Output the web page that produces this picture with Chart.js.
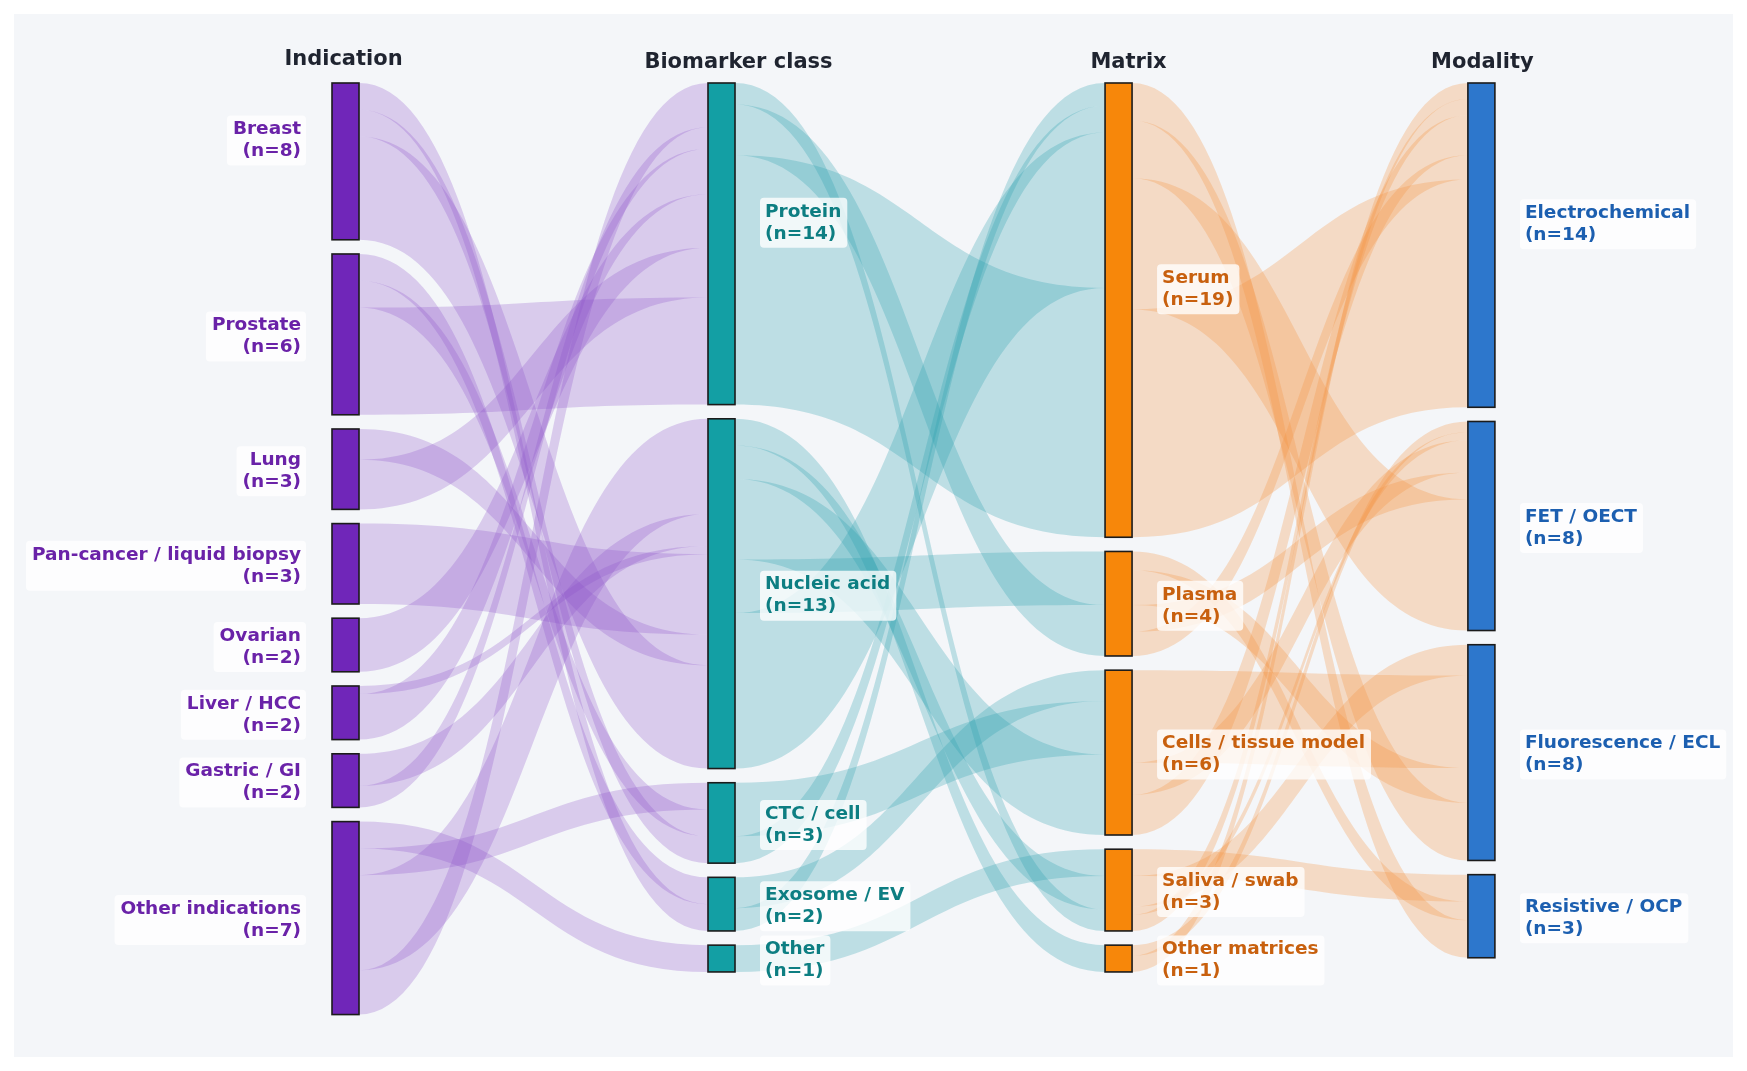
<!DOCTYPE html>
<html>
<head>
<meta charset="utf-8">
<script src="https://cdn.jsdelivr.net/npm/chart.js@4.4.1/dist/chart.umd.min.js"></script>
<style>
  html, body { margin: 0; padding: 0; background: #ffffff; }
  #wrap { width: 1747px; height: 1071px; position: relative; }
</style>
</head>
<body>
<div id="wrap"><canvas id="chart"></canvas></div>
<script>
// ---- data ----
const columnTitles = ['Indication', 'Biomarker class', 'Matrix', 'Modality'];

const indication = ['Breast', 'Prostate', 'Lung', 'Pan-cancer / liquid biopsy', 'Ovarian', 'Liver / HCC', 'Gastric / GI', 'Other indications'];
const indicationN = [8, 6, 3, 3, 2, 2, 2, 7];

const biomarker = ['Protein', 'Nucleic acid', 'CTC / cell', 'Exosome / EV', 'Other'];
const biomarkerN = [14, 13, 3, 2, 1];

const matrix = ['Serum', 'Plasma', 'Cells / tissue model', 'Saliva / swab', 'Other matrices'];
const matrixN = [19, 4, 6, 3, 1];

const modality = ['Electrochemical', 'FET / OECT', 'Fluorescence / ECL', 'Resistive / OCP'];
const modalityN = [14, 8, 8, 3];

// flows between neighbouring columns: [source index, target index, weight]
const indicationToBiomarker = [
  [0, 3, 1.0], [0, 2, 1.0], [0, 1, 3.85],
  [1, 3, 1.0], [1, 2, 1.0], [1, 0, 4.0],
  [2, 1, 1.15], [2, 0, 1.85],
  [3, 1, 3.0],
  [4, 0, 2.0],
  [5, 1, 0.3], [5, 0, 1.7],
  [6, 1, 1.2], [6, 0, 0.8],
  [7, 4, 1.0], [7, 2, 1.0], [7, 1, 3.55], [7, 0, 1.65],
];
const biomarkerToMatrix = [
  [0, 3, 0.8], [0, 1, 1.9], [0, 0, 9.3],
  [1, 4, 1.0], [1, 3, 1.25], [1, 2, 3.0], [1, 1, 2.0], [1, 0, 5.8],
  [2, 2, 2.0], [2, 0, 1.0],
  [3, 2, 1.15], [3, 0, 0.85],
  [4, 3, 1.0],
];
const matrixToModality = [
  [0, 3, 1.4], [0, 2, 2.15], [0, 1, 4.9], [0, 0, 8.5],
  [1, 3, 0.7], [1, 2, 1.3], [1, 1, 1.0], [1, 0, 0.9],
  [2, 2, 3.45], [2, 1, 1.2], [2, 0, 1.5],
  [3, 3, 1.0], [3, 2, 1.15], [3, 1, 0.3], [3, 0, 0.6],
  [4, 1, 0.4], [4, 0, 0.6],
];

// ---- layout / style ----
const columns = [
  { names: indication, counts: indicationN },
  { names: biomarker, counts: biomarkerN },
  { names: matrix, counts: matrixN },
  { names: modality, counts: modalityN },
];
const stages = [indicationToBiomarker, biomarkerToMatrix, matrixToModality];
const colPos = [0, 1, 2.056, 3.021];
const titleShift = [-2, 17, 10, 1];
const NODE_GAP = 0.53;
const NODE_W = 27;
const nodeColor = ['#7026b9', '#139fa4', '#f7870a', '#2d77cc'];
const textColor = ['#6a22a8', '#0d7e82', '#c8600e', '#1c5fb0'];
const linkColor = ['rgba(140,80,200,0.26)', 'rgba(40,160,175,0.27)', 'rgba(245,145,60,0.27)'];
const FONT = '"DejaVu Sans", "Noto Sans", sans-serif';

function buildLayout() {
  const cols = columns.map(col => col.names.map((name, i) => ({ name, n: col.counts[i], inV: 0, outV: 0 })));
  stages.forEach((links, s) => links.forEach(([a, b, v]) => { cols[s][a].outV += v; cols[s + 1][b].inV += v; }));
  cols.forEach(col => {
    let y = 0;
    col.forEach(nd => { nd.v = Math.max(nd.inV, nd.outV); nd.y0 = y; nd.y1 = y + nd.v; y = nd.y1 + NODE_GAP; });
  });
  const ribbons = [];
  stages.forEach((links, s) => {
    const items = links.map(([a, b, v]) => ({ s, a, b, v }));
    cols[s].forEach((nd, i) => {
      let y = nd.y0;
      items.filter(l => l.a === i).sort((p, q) => q.b - p.b).forEach(l => { l.sy = y; y += l.v; });
    });
    cols[s + 1].forEach((nd, j) => {
      let y = nd.y0;
      items.filter(l => l.b === j).sort((p, q) => q.a - p.a).forEach(l => { l.ty = y; y += l.v; });
    });
    ribbons.push(...items);
  });
  return { cols, ribbons };
}

function roundRect(ctx, x, y, w, h, r) {
  ctx.beginPath();
  ctx.moveTo(x + r, y); ctx.lineTo(x + w - r, y); ctx.quadraticCurveTo(x + w, y, x + w, y + r);
  ctx.lineTo(x + w, y + h - r); ctx.quadraticCurveTo(x + w, y + h, x + w - r, y + h);
  ctx.lineTo(x + r, y + h); ctx.quadraticCurveTo(x, y + h, x, y + h - r);
  ctx.lineTo(x, y + r); ctx.quadraticCurveTo(x, y, x + r, y);
  ctx.closePath();
}

const sankeyPlugin = {
  id: 'sankey',
  beforeDraw(chart) {
    const { ctx, width, height } = chart;
    ctx.save();
    ctx.fillStyle = '#ffffff'; ctx.fillRect(0, 0, width, height);
    ctx.fillStyle = '#f4f6f9'; ctx.fillRect(14, 14, width - 28, height - 28);
    ctx.restore();
  },
  afterDatasetsDraw(chart) {
    const { ctx } = chart;
    const xs = chart.scales.x, ys = chart.scales.y;
    const { cols, ribbons } = buildLayout();
    const cx = c => xs.getPixelForValue(colPos[c]);
    ctx.save();
    // ribbons
    ribbons.forEach(l => {
      const x0 = cx(l.s) + NODE_W / 2, x1 = cx(l.s + 1) - NODE_W / 2, xm = (x0 + x1) / 2;
      const s0 = ys.getPixelForValue(l.sy), s1 = ys.getPixelForValue(l.sy + l.v);
      const t0 = ys.getPixelForValue(l.ty), t1 = ys.getPixelForValue(l.ty + l.v);
      ctx.beginPath();
      ctx.moveTo(x0, s0);
      ctx.bezierCurveTo(xm, s0, xm, t0, x1, t0);
      ctx.lineTo(x1, t1);
      ctx.bezierCurveTo(xm, t1, xm, s1, x0, s1);
      ctx.closePath();
      ctx.fillStyle = linkColor[l.s];
      ctx.fill();
    });
    // nodes
    cols.forEach((col, c) => col.forEach(nd => {
      const top = ys.getPixelForValue(nd.y0), bot = ys.getPixelForValue(nd.y1);
      ctx.fillStyle = nodeColor[c];
      ctx.fillRect(cx(c) - NODE_W / 2, top, NODE_W, bot - top);
      ctx.lineWidth = 1.6; ctx.strokeStyle = '#1b1b1b';
      ctx.strokeRect(cx(c) - NODE_W / 2, top, NODE_W, bot - top);
    }));
    // labels
    ctx.font = 'bold 18.5px ' + FONT;
    ctx.textBaseline = 'middle';
    cols.forEach((col, c) => col.forEach((nd, i) => {
      const top = ys.getPixelForValue(nd.y0), bot = ys.getPixelForValue(nd.y1);
      const mid = (top + bot) / 2 - (i === 0 ? 21 : 0) + (i > 0 ? 2 : 0);
      const l1 = nd.name, l2 = '(n=' + nd.n + ')';
      const w = Math.max(ctx.measureText(l1).width, ctx.measureText(l2).width);
      const left = c === 0;
      const tx = left ? cx(c) - NODE_W / 2 - 31 : cx(c) + NODE_W / 2 + 30;
      const bx = left ? tx - w - 6 : tx - 5;
      ctx.fillStyle = 'rgba(255,255,255,0.78)';
      roundRect(ctx, bx, mid - 25, w + 11, 50, 4);
      ctx.fill();
      ctx.fillStyle = textColor[c];
      ctx.textAlign = left ? 'right' : 'left';
      ctx.fillText(l1, tx, mid - 11);
      ctx.fillText(l2, tx, mid + 11);
    }));
    // column titles
    ctx.font = 'bold 21px ' + FONT;
    ctx.textAlign = 'center';
    ctx.fillStyle = '#1f2430';
    columnTitles.forEach((t, c) => ctx.fillText(t, cx(c) + titleShift[c], c === 0 ? 60 : 63));
    ctx.restore();
  }
};

new Chart(document.getElementById('chart'), {
  type: 'scatter',
  data: { datasets: [{ data: [], pointRadius: 0 }] },
  options: {
    responsive: true, maintainAspectRatio: false, animation: false,
    devicePixelRatio: 1,
    layout: { padding: 0 },
    plugins: { legend: { display: false }, tooltip: { enabled: false } },
    scales: {
      x: { type: 'linear', min: -0.9189, max: 3.7274, display: false },
      y: { type: 'linear', min: -3.097, max: 36.866, reverse: true, display: false },
    },
  },
  plugins: [sankeyPlugin],
});
</script>
</body>
</html>
